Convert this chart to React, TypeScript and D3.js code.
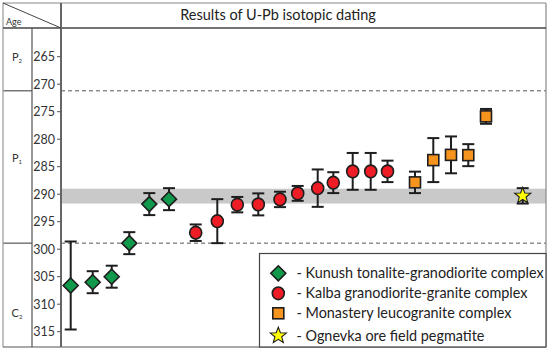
import React from "react";
import * as d3 from "d3";

// ---- data ----
const yTicks = [265, 270, 275, 280, 285, 290, 295, 300, 305, 310, 315];
const periods = ["P2", "P1", "C2"];
const boundaryAges = [271.2, 298.9];
const bandRange = [289.0, 291.7];

const kunushPos = [0.485, 1.585, 2.535, 3.415, 4.415, 5.4];
const kunushAge = [306.6, 306.0, 305.0, 298.9, 291.8, 290.9];
const kunushErr = [8.0, 2.0, 2.0, 2.0, 2.0, 2.0];

const kalbaPos = [6.735, 7.815, 8.815, 9.865, 10.95, 11.835, 12.835, 13.615, 14.585, 15.485, 16.325];
const kalbaAge = [297.0, 294.9, 291.9, 291.85, 290.95, 289.85, 288.9, 287.9, 285.85, 285.85, 285.85];
const kalbaErr = [1.5, 4.0, 1.4, 2.0, 1.4, 1.35, 3.4, 1.9, 3.35, 3.35, 1.95];

const monasteryPos = [17.7, 18.615, 19.5, 20.365, 21.25];
const monasteryAge = [287.85, 283.8, 282.85, 282.9, 275.85];
const monasteryErr = [1.95, 4.0, 3.35, 2.0, 1.35];

const ognevkaPos = [23.085];
const ognevkaAge = [290.3];
const ognevkaErr = [1.4];

const legendLabels = [
  "- Kunush tonalite-granodiorite complex",
  "- Kalba granodiorite-granite complex",
  "- Monastery leucogranite complex",
  "- Ognevka ore field pegmatite",
];
const title = "Results of U-Pb isotopic dating";

const FONT = "Lato, 'Open Sans', sans-serif";
const GREEN = "#10994a";
const RED = "#ee1c24";
const ORANGE = "#f7941d";
const YELLOW = "#ffff00";
const DARK = "#1e1e1e";

const L = 3, C = 32, A = 61, R = 546, T = 3, H = 28, B = 347;

const x = d3.scaleLinear().domain([0, 24.25]).range([A, R]);
const y = d3.scaleLinear().domain([265, 315]).range([56.7, 331.7]);

function starPath(cx: number, cy: number, ro: number, ri: number) {
  const pts: [number, number][] = [];
  for (let i = 0; i < 10; i++) {
    const r = i % 2 === 0 ? ro : ri;
    const a = -Math.PI / 2 + (i * Math.PI) / 5;
    pts.push([cx + r * Math.cos(a), cy + r * Math.sin(a)]);
  }
  return d3.line()(pts)! + "Z";
}

type Kind = "diamond" | "circle" | "square" | "star";

function Marker({ kind, cx, cy }: { kind: Kind; cx: number; cy: number }) {
  const sw = 1.6;
  if (kind === "diamond") {
    const h = 7.5;
    return (
      <path
        d={`M${cx},${cy - h}L${cx + h},${cy}L${cx},${cy + h}L${cx - h},${cy}Z`}
        fill={GREEN}
        stroke={DARK}
        strokeWidth={sw}
      />
    );
  }
  if (kind === "circle") {
    return <ellipse cx={cx} cy={cy} rx={6} ry={6.3} fill={RED} stroke={DARK} strokeWidth={sw} />;
  }
  if (kind === "square") {
    const s = 11;
    return <rect x={cx - s / 2} y={cy - s / 2} width={s} height={s} fill={ORANGE} stroke={DARK} strokeWidth={sw} />;
  }
  return <path d={starPath(cx, cy, 8.5, 3.6)} fill={YELLOW} stroke={DARK} strokeWidth={1.1} />;
}

function Series({ pos, age, err, kind }: { pos: number[]; age: number[]; err: number[]; kind: Kind }) {
  return (
    <g>
      {pos.map((p, i) => {
        const cx = x(p);
        const y0 = y(age[i] - err[i]);
        const y1 = y(age[i] + err[i]);
        const cw = 6;
        return (
          <g key={i}>
            <line x1={cx} x2={cx} y1={y0} y2={y1} stroke={DARK} strokeWidth={2} />
            <line x1={cx - cw} x2={cx + cw} y1={y0} y2={y0} stroke={DARK} strokeWidth={2} />
            <line x1={cx - cw} x2={cx + cw} y1={y1} y2={y1} stroke={DARK} strokeWidth={2} />
            <Marker kind={kind} cx={cx} cy={y(age[i])} />
          </g>
        );
      })}
    </g>
  );
}

function PeriodLabel({ label, cy }: { label: string; cy: number }) {
  return (
    <text x={17} y={cy + 4} textAnchor="middle" fontFamily={FONT} fontSize={11} fill="#333">
      {label[0]}
      <tspan fontSize={6} dy={2}>{label[1]}</tspan>
    </text>
  );
}

export default function App() {
  const kinds: Kind[] = ["diamond", "circle", "square", "star"];
  const legendY = [273.3, 293.3, 313.3, 335.7];
  return (
    <svg width={550} height={351} style={{ position: "absolute", left: 0, top: 0, background: "#fff" }}>
      <rect x={0} y={0} width={550} height={351} fill="#fff" />
      {/* band */}
      <rect x={A} y={y(bandRange[0])} width={R - A} height={y(bandRange[1]) - y(bandRange[0])} fill="#c9c9c9" />
      {/* dashed boundaries */}
      {boundaryAges.map((b, i) => (
        <line key={i} x1={A} x2={R} y1={y(b)} y2={y(b)} stroke="#555" strokeWidth={1} strokeDasharray="4,3" />
      ))}
      {/* left column boundaries */}
      {boundaryAges.map((b, i) => (
        <line key={"lb" + i} x1={L} x2={C} y1={y(b)} y2={y(b)} stroke="#555" strokeWidth={1.2} />
      ))}
      {/* frame */}
      <line x1={L} x2={R} y1={T} y2={T} stroke="#888" strokeWidth={1.2} />
      <line x1={L} x2={L} y1={T} y2={B} stroke="#999" strokeWidth={1.2} />
      <line x1={R} x2={R} y1={T} y2={B} stroke="#888" strokeWidth={1.2} />
      <line x1={L} x2={R} y1={B} y2={B} stroke="#555" strokeWidth={1.2} />
      <line x1={L} x2={R} y1={H} y2={H} stroke="#444" strokeWidth={1.6} />
      <line x1={C} x2={C} y1={H} y2={B} stroke="#555" strokeWidth={1.2} />
      <line x1={A} x2={A} y1={T} y2={B} stroke="#666" strokeWidth={2} />
      <line x1={L} x2={A} y1={T} y2={H} stroke="#444" strokeWidth={1} />
      <text x={6} y={25} fontFamily={FONT} fontSize={9} fill="#333">Age</text>
      {/* title */}
      <text x={278} y={20} textAnchor="middle" fontFamily={FONT} fontSize={14.5} fill="#222">{title}</text>
      {/* y axis */}
      {yTicks.map((t) => (
        <g key={t}>
          <line x1={57} x2={A} y1={y(t)} y2={y(t)} stroke="#555" strokeWidth={1} />
          <text x={55} y={y(t) + 4.5} textAnchor="end" fontFamily={FONT} fontSize={12.5} fill="#333">{t}</text>
        </g>
      ))}
      {periods.map((p, i) => (
        <PeriodLabel key={p} label={p} cy={[57, 157.7, 312.7][i]} />
      ))}
      {/* series */}
      <Series pos={kunushPos} age={kunushAge} err={kunushErr} kind="diamond" />
      <Series pos={kalbaPos} age={kalbaAge} err={kalbaErr} kind="circle" />
      <Series pos={monasteryPos} age={monasteryAge} err={monasteryErr} kind="square" />
      <Series pos={ognevkaPos} age={ognevkaAge} err={ognevkaErr} kind="star" />
      {/* legend */}
      <rect x={259.5} y={253.5} width={R - 259.5} height={B - 253.5} fill="#fff" stroke="#444" strokeWidth={1.2} />
      {legendLabels.map((lab, i) => (
        <g key={lab}>
          <Marker kind={kinds[i]} cx={278.3} cy={legendY[i]} />
          <text x={296.5} y={legendY[i] + 5} fontFamily={FONT} fontSize={14.4} fill="#222">{lab}</text>
        </g>
      ))}
    </svg>
  );
}
